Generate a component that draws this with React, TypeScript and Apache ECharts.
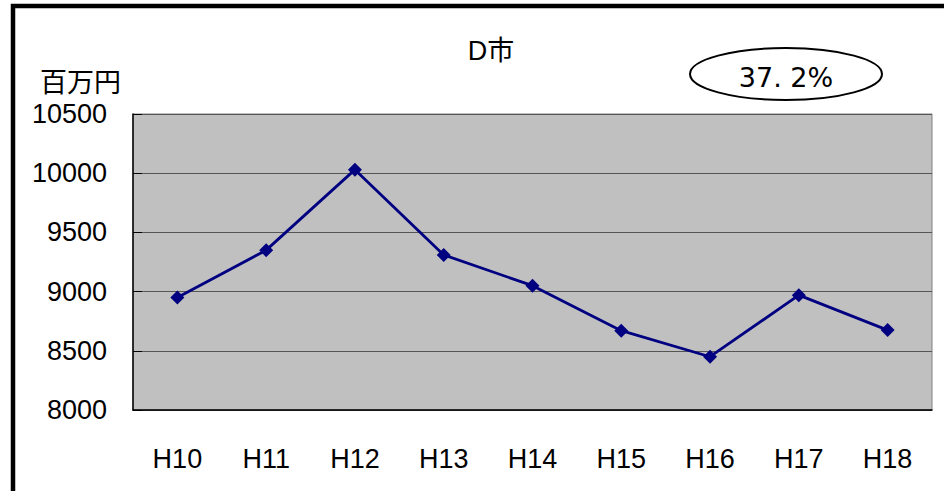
import React, { useEffect, useRef } from "react";
import * as echarts from "echarts";

const categories = ["H10", "H11", "H12", "H13", "H14", "H15", "H16", "H17", "H18"];
const values = [8950, 9350, 10030, 9310, 9050, 8670, 8450, 8970, 8675];
const chartTitle = "D市";
const unitLabel = "百万円";
const badgeText = "37. 2%";
const yMin = 8000;
const yMax = 10500;
const yStep = 500;

export default function App() {
  const ref = useRef<HTMLDivElement>(null);
  useEffect(() => {
    if (!ref.current) return;
    const chart = echarts.init(ref.current, null, { renderer: "svg" });
    const font = "'Liberation Sans', Arial, 'Noto Sans CJK JP', sans-serif";
    chart.setOption({
      animation: false,
      backgroundColor: "#ffffff",
      title: {
        text: chartTitle,
        left: 486,
        top: 32,
        textAlign: "center",
        textStyle: { fontSize: 27, fontWeight: "normal", color: "#000", fontFamily: font },
      },
      grid: { left: 133, top: 114, right: 12, bottom: 81, show: true, backgroundColor: "#c0c0c0", borderColor: "#808080", borderWidth: 1 },
      xAxis: {
        type: "category",
        data: categories,
        boundaryGap: true,
        axisLine: { lineStyle: { color: "#000", width: 1.5 } },
        axisTick: { inside: true, length: 9, lineStyle: { color: "#000" } },
        axisLabel: { color: "#000", fontSize: 27, margin: 35, fontFamily: font },
      },
      yAxis: {
        type: "value",
        min: yMin,
        max: yMax,
        interval: yStep,
        name: unitLabel,
        nameLocation: "end",
        nameGap: 20,
        nameTextStyle: { color: "#000", fontSize: 27, align: "right", padding: [0, 12, 0, 0], fontFamily: "'Noto Sans CJK JP', sans-serif" },
        axisLine: { show: true, lineStyle: { color: "#000", width: 1.5 } },
        axisTick: { show: true, inside: true, length: 9, lineStyle: { color: "#000" } },
        axisLabel: { color: "#000", fontSize: 27, margin: 26, fontFamily: font, formatter: (v: number) => String(v) },
        splitLine: { lineStyle: { color: "#555", width: 1 } },
      },
      series: [
        {
          type: "line",
          data: values,
          symbol: "diamond",
          symbolSize: 14,
          lineStyle: { color: "#000080", width: 2.8 },
          itemStyle: { color: "#000080" },
        },
      ],
      graphic: [
        {
          type: "rect",
          shape: { x: 13, y: 6, width: 1100, height: 1000 },
          style: { fill: "none", stroke: "#000", lineWidth: 4.5 },
          silent: true,
        },
        {
          type: "ellipse",
          shape: { cx: 786, cy: 74, rx: 96, ry: 26 },
          style: { fill: "#fff", stroke: "#000", lineWidth: 2 },
        },
        {
          type: "text",
          x: 786,
          y: 77,
          style: { text: badgeText, fontSize: 27, fill: "#000", align: "center", verticalAlign: "middle", fontFamily: "'DejaVu Sans', sans-serif" },
        },
      ],
    });
    return () => chart.dispose();
  }, []);
  return <div ref={ref} style={{ position: "fixed", left: 0, top: 0, width: 944, height: 491 }} />;
}
